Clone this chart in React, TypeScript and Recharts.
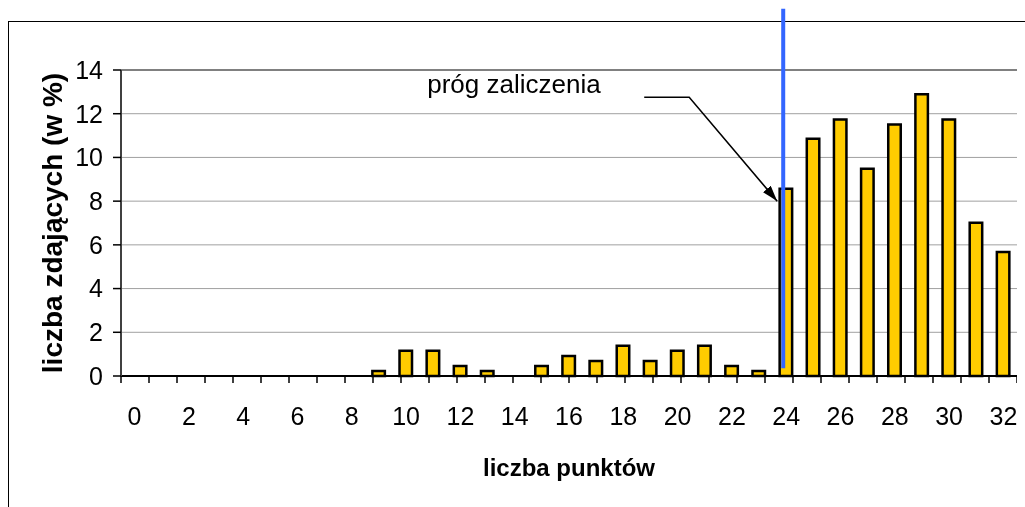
import {
  Bar,
  BarChart,
  CartesianGrid,
  Label,
  ReferenceDot,
  ReferenceLine,
  Text,
  XAxis,
  YAxis,
} from "recharts";

// points scored -> share of candidates (%)
const POINTS = [
  0, 1, 2, 3, 4, 5, 6, 7, 8, 9, 10, 11, 12, 13, 14, 15, 16, 17, 18, 19, 20, 21, 22, 23, 24, 25,
  26, 27, 28, 29, 30, 31, 32,
];
const SHARE = [
  0, 0, 0, 0, 0, 0, 0, 0, 0, 0.23, 1.15, 1.15, 0.46, 0.23, 0, 0.46, 0.92, 0.69, 1.38, 0.69, 1.15,
  1.38, 0.46, 0.23, 8.57, 10.86, 11.74, 9.48, 11.51, 12.89, 11.74, 7.01, 5.67,
];
const Y_TICKS = [0, 2, 4, 6, 8, 10, 12, 14];
// band edges for the small tick marks under the axis
const EDGE_TICKS = [
  0, 1, 2, 3, 4, 5, 6, 7, 8, 9, 10, 11, 12, 13, 14, 15, 16, 17, 18, 19, 20, 21, 22, 23, 24, 25,
  26, 27, 28, 29, 30, 31, 32, 33,
];

const PASS_MARK = 24;
const PASS_LINE_TOP = 16.8;
const PASS_LINE_BOTTOM = 0.35;
const ARROW_TIP = 8;

const data = POINTS.map((p, i) => ({ points: p, share: SHARE[i] }));

const FONT = "'Liberation Sans', Arial, sans-serif";

function ArrowNote({ cx, cy }: { cx: number; cy: number }) {
  const tipX = cx - 9;
  return (
    <g>
      <defs>
        <marker
          id="note-arrow"
          markerWidth={16}
          markerHeight={10}
          refX={16}
          refY={5}
          orient="auto"
          markerUnits="userSpaceOnUse"
        >
          <path d="M0,0 L16,5 L0,10 z" fill="#000" />
        </marker>
      </defs>
      <polyline
        points={`${cx - 142},${cy - 104} ${cx - 97},${cy - 104} ${tipX},${cy}`}
        fill="none"
        stroke="#000"
        strokeWidth={1.5}
        markerEnd="url(#note-arrow)"
      />
      <text x={cx - 359} y={cy - 108} fontSize={26} fill="#000" fontFamily={FONT}>
        próg zaliczenia
      </text>
    </g>
  );
}

function PassLine(p: any) {
  return (
    <line
      x1={p.x1 - 3}
      y1={p.y1}
      x2={p.x2 - 3}
      y2={p.y2}
      stroke="#3366ff"
      strokeWidth={4}
    />
  );
}

export default function App() {
  return (
    <div style={{ position: "relative", width: 1017, height: 491, fontFamily: FONT }}>
      <div
        style={{
          position: "fixed",
          top: 21,
          left: 8,
          right: -10,
          bottom: -10,
          borderTop: "1px solid #000",
          borderLeft: "1px solid #000",
        }}
      />
      <div style={{ position: "absolute", top: 0, left: 0 }}>
        <BarChart
          width={1017}
          height={491}
          data={data}
          margin={{ top: 62, right: 8, bottom: 23, left: 0 }}
        >
          <CartesianGrid vertical={false} stroke="#a0a0a0" />
          <XAxis
            type="number"
            domain={[0, 33]}
            ticks={EDGE_TICKS}
            interval={0}
            allowDataOverflow
            height={1}
            tickSize={7}
            tickFormatter={() => ""}
            axisLine={{ stroke: "#000", strokeWidth: 2 }}
            tickLine={{ stroke: "#000", strokeWidth: 1.5 }}
          />
          <XAxis
            xAxisId="cat"
            dataKey="points"
            interval={1}
            height={99}
            tickSize={7}
            tickMargin={23}
            tickLine={false}
            axisLine={false}
            tick={{ fill: "#000", fontSize: 25 }}
          >
            <Label
              value="liczba punktów"
              position="insideBottom"
              offset={0}
              fill="#000"
              fontSize={24}
              fontWeight="bold"
            />
          </XAxis>
          <YAxis
            domain={[0, 14]}
            ticks={Y_TICKS}
            interval={0}
            width={113}
            tickSize={8}
            tickMargin={10}
            tick={{ fill: "#000", fontSize: 25 }}
            axisLine={{ stroke: "#404040", strokeWidth: 2 }}
            tickLine={{ stroke: "#000", strokeWidth: 1.5 }}
          >
            <Label
              content={({ viewBox }: any) => (
                <Text
                  x={viewBox.x + 44}
                  y={viewBox.y + viewBox.height / 2}
                  angle={-90}
                  textAnchor="middle"
                  verticalAnchor="middle"
                  fontSize={28}
                  fontWeight="bold"
                  fill="#000"
                >
                  liczba zdających (w %)
                </Text>
              )}
            />
          </YAxis>
          <YAxis
            yAxisId="frame"
            orientation="right"
            width={0}
            domain={[0, 14]}
            tick={false}
            tickLine={false}
            axisLine={{ stroke: "#808080", strokeWidth: 2 }}
          />
          <ReferenceLine y={14} stroke="#808080" strokeWidth={2} />
          <Bar
            xAxisId="cat"
            dataKey="share"
            fill="#ffcc00"
            stroke="#000"
            strokeWidth={2.5}
            barSize={12.5}
            isAnimationActive={false}
          />
          <ReferenceLine
            xAxisId="cat"
            segment={[
              { x: PASS_MARK, y: PASS_LINE_TOP },
              { x: PASS_MARK, y: PASS_LINE_BOTTOM },
            ]}
            ifOverflow="visible"
            shape={PassLine}
          />
          <ReferenceDot
            xAxisId="cat"
            x={PASS_MARK}
            y={ARROW_TIP}
            ifOverflow="visible"
            shape={ArrowNote as any}
          />
        </BarChart>
      </div>
    </div>
  );
}
